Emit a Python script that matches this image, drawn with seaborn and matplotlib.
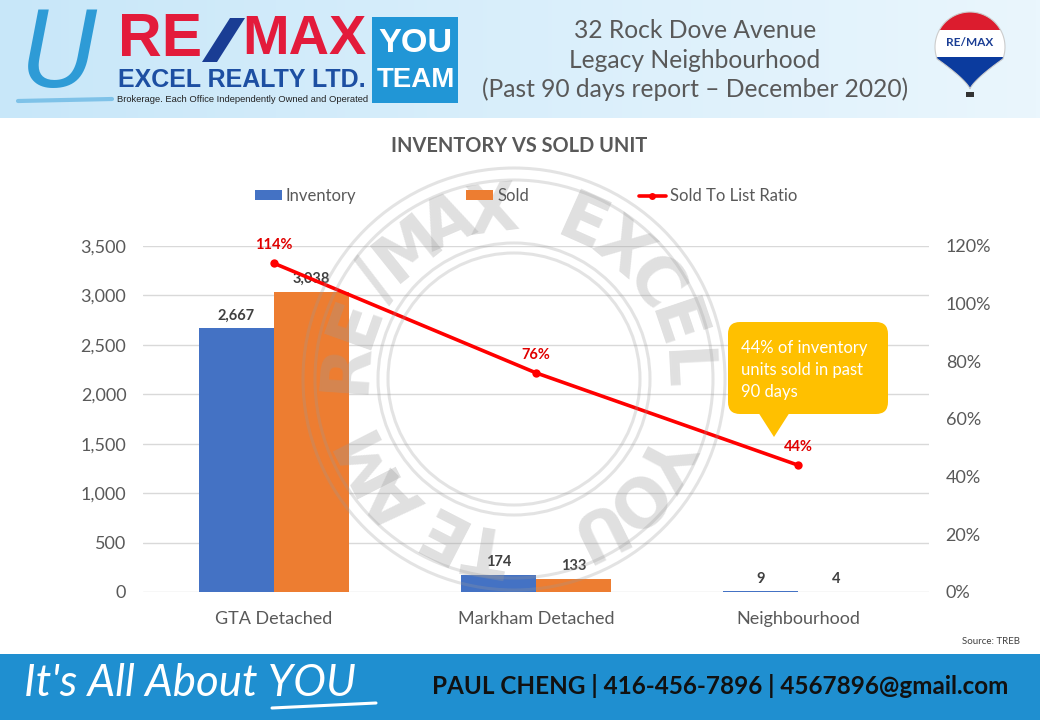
import numpy as np
import pandas as pd
import matplotlib
matplotlib.use("Agg")
import matplotlib.pyplot as plt
import seaborn as sns
from matplotlib.patches import Rectangle, Circle, FancyBboxPatch, Polygon, Patch
from matplotlib.lines import Line2D
from matplotlib.colors import LinearSegmentedColormap
from matplotlib.ticker import FuncFormatter, PercentFormatter

# chart data
areas = ["GTA Detached", "Markham Detached", "Neighbourhood"]
inventory = [2667, 174, 9]
sold = [3038, 133, 4]
sold_to_list = [1.14, 0.76, 0.44]
series_names = ["Inventory", "Sold", "Sold To List Ratio"]

W, H = 1040, 720
BLUE = "#4472c4"
ORANGE = "#ed7d31"
RED = "#ff0000"
GREY = "#595959"

sns.set_theme(style="white")
plt.rcParams["font.family"] = ["Lato", "DejaVu Sans"]

fig = plt.figure(figsize=(W / 100, H / 100), dpi=100)
fig.patch.set_facecolor("white")


def fit_text(ax, x, y, s, width, ha="left", **kw):
    # draw text then rescale its size so it spans the wanted pixel width
    t = ax.text(x, y, s, fontsize=20, ha=ha, va="center", **kw)
    bb = t.get_window_extent(renderer=fig.canvas.get_renderer())
    t.set_fontsize(20 * width / bb.width)
    return t


# background layer: header, footer, logos (pixel coordinates)
bg = fig.add_axes([0, 0, 1, 1], zorder=0)
grad = np.linspace(0, 1, 256).reshape(1, -1)
hdr_cmap = LinearSegmentedColormap.from_list("hdr", ["#c8e7f9", "#eaf6fd"])
bg.imshow(grad, extent=[0, W, 118, 0], aspect="auto", cmap=hdr_cmap, zorder=0)
bg.add_patch(Rectangle((0, 654), W, 66, fc="#1f8fd0", ec="none"))
bg.set_xlim(0, W)
bg.set_ylim(H, 0)
bg.axis("off")

# left logo
bg.text(60, 58, "U", fontsize=76, style="italic", color="#2e9bd6",
        family="DejaVu Sans", ha="center", va="center")
bg.plot([18, 112], [101, 99], color="#5fb3e2", lw=3, alpha=0.7, solid_capstyle="round")
fit_text(bg, 118, 40, "RE", 84, color="#e31b3b", weight="bold", family="Liberation Sans")
bg.add_patch(Polygon([(202, 62), (217, 62), (245, 18), (230, 18)], fc="#1a3d94", ec="none"))
fit_text(bg, 242, 40, "MAX", 124, color="#e31b3b", weight="bold", family="Liberation Sans")
fit_text(bg, 118, 80, "EXCEL REALTY LTD.", 248, color="#1d4fa2", weight="bold",
         family="Liberation Sans")
fit_text(bg, 117, 100, "Brokerage. Each Office Independently Owned and Operated", 249,
         color="#222222", family="Liberation Sans")
bg.add_patch(Rectangle((372, 17), 86, 86, fc="#2196d6", ec="none"))
fit_text(bg, 378, 43, "YOU", 74, color="white", weight="bold", family="Liberation Sans")
fit_text(bg, 377, 80, "TEAM", 78, color="white", weight="bold", family="Liberation Sans")

# header title lines
t3 = fit_text(bg, 695, 89, "(Past 90 days report \u2013 December 2020)", 428, ha="center", color=GREY)
size = t3.get_fontsize()
bg.text(695, 31, "32 Rock Dove Avenue", fontsize=size, ha="center", va="center", color=GREY)
bg.text(695, 60, "Legacy Neighbourhood", fontsize=size, ha="center", va="center", color=GREY)

# balloon logo
cx, cy, r = 970, 47, 35
ang = np.radians(np.linspace(200, -20, 60))
top = np.c_[cx + r * np.cos(ang), cy - r * np.sin(ang)]
tt = np.linspace(0, 1, 20)
right = np.c_[cx + r * np.cos(np.radians(20)) * (1 - tt) ** 1.3,
              cy + r * np.sin(np.radians(20)) + tt * 30]
left = np.c_[2 * cx - right[::-1, 0], right[::-1, 1]]
balloon = Polygon(np.vstack([top, right, left]), closed=True, fc="none", ec="#cccccc", lw=0.8, zorder=3)
bg.add_patch(balloon)
for y0, y1, col in [(0, 30, "#dc1c2e"), (30, 57, "white"), (57, 100, "#0b3b9e")]:
    band = Rectangle((cx - 40, y0), 80, y1 - y0, fc=col, ec="none", zorder=2)
    bg.add_patch(band)
    band.set_clip_path(balloon)
bg.text(cx, 42, "RE/MAX", fontsize=8.5, weight="bold", color="#1a3d94", ha="center", va="center", zorder=4)
bg.add_patch(Rectangle((966, 92), 8, 5, fc="#333333", ec="none"))

# chart title, source and footer text
bg.text(519, 146, "INVENTORY VS SOLD UNIT", fontsize=14.4, weight="bold", color=GREY,
        ha="center", va="center")
bg.text(1020, 641, "Source: TREB", fontsize=7, ha="right", va="center", color="#404040")
fit_text(bg, 24, 684, "It's All About YOU", 332, color="white", style="italic")
bg.plot([272, 376], [708, 703], color="white", lw=2.2, solid_capstyle="round")
fit_text(bg, 432, 686, "PAUL CHENG | 416-456-7896 | 4567896@gmail.com", 575,
         color="#111111", weight="bold")

# bars
df = pd.DataFrame({
    "area": areas * 2,
    "series": [series_names[0]] * len(areas) + [series_names[1]] * len(areas),
    "units": inventory + sold,
})

ax = fig.add_axes([143 / W, 1 - 592 / H, (929 - 143) / W, (592 - 246) / H], zorder=2)
ax.patch.set_alpha(0)
sns.barplot(data=df, x="area", y="units", hue="series", hue_order=series_names[:2],
            palette=[BLUE, ORANGE], saturation=1, width=0.575, errorbar=None,
            legend=False, linewidth=0, ax=ax)
ax.set_xlim(-0.5, len(areas) - 0.5)
ax.set_ylim(0, 3500)
ax.set_yticks(np.arange(0, 3501, 500))
ax.yaxis.set_major_formatter(FuncFormatter(lambda v, p: f"{v:,.0f}"))
ax.grid(axis="y", color="#d9d9d9", lw=1)
ax.grid(axis="x", visible=False)
ax.set_axisbelow(True)
ax.set_xlabel("")
ax.set_ylabel("")
sns.despine(ax=ax, left=True, bottom=True)
ax.tick_params(axis="y", length=0, pad=12, labelsize=13, labelcolor=GREY)
ax.tick_params(axis="x", length=0, pad=14, labelsize=13, labelcolor=GREY)

for cont, vals in zip(ax.containers, [inventory, sold]):
    ax.bar_label(cont, labels=[f"{v:,}" for v in vals], padding=4, fontsize=10.5,
                 fontweight="bold", color="#404040")

# ratio line on the right axis
ax2 = ax.twinx()
pos = np.arange(len(areas))
sns.lineplot(x=pos, y=sold_to_list, ax=ax2, color=RED, lw=2.6, marker="o",
             markersize=6, markeredgewidth=0, legend=False)
ax2.set_ylim(0, 1.2)
ax2.set_yticks(np.arange(0, 1.21, 0.2))
ax2.yaxis.set_major_formatter(PercentFormatter(1.0, decimals=0))
ax2.grid(False)
ax2.set_ylabel("")
sns.despine(ax=ax2, left=True, bottom=True, right=True)
ax2.tick_params(axis="y", length=0, pad=12, labelsize=13, labelcolor=GREY)
for x, v in zip(pos, sold_to_list):
    ax2.annotate(f"{v:.0%}", (x, v), xytext=(0, 13), textcoords="offset points",
                 ha="center", va="center", color="#e00000", fontsize=10.5, fontweight="bold")

# legend
handles = [Patch(fc=BLUE, ec="none"), Patch(fc=ORANGE, ec="none"),
           Line2D([], [], color=RED, lw=2.6, marker="o", markersize=5, markeredgewidth=0)]
fig.legend(handles, series_names, loc="center", bbox_to_anchor=(526 / W, 1 - 196 / H),
           ncol=3, frameon=False, fontsize=12, handlelength=1.6, handleheight=0.5,
           handletextpad=0.25, columnspacing=6.6, labelcolor=GREY)

# overlay: watermark stamp and callout
ov = fig.add_axes([0, 0, 1, 1], zorder=5)
ov.set_xlim(0, W)
ov.set_ylim(H, 0)
ov.axis("off")
ov.patch.set_alpha(0)
wx, wy = 514, 379
for rr in [211, 199, 136, 126]:
    ov.add_patch(Circle((wx, wy), rr, fc="none", ec="#9a9a9a", lw=2.2, alpha=0.27))
for text, a0, a1 in [("RE/MAX EXCEL", 176, 3), ("YOU TEAM", -28, -153)]:
    for ch, a in zip(text, np.linspace(a0, a1, len(text))):
        if ch == " ":
            continue
        rad = np.radians(a)
        ov.text(wx + 168 * np.cos(rad), wy - 168 * np.sin(rad), ch, fontsize=48,
                weight="bold", family="DejaVu Sans", color="#9a9a9a", alpha=0.3,
                rotation=a - 90, rotation_mode="anchor", ha="center", va="center")

ov.add_patch(FancyBboxPatch((728, 322), 160, 92, boxstyle="round,pad=0,rounding_size=12",
                            fc="#ffc000", ec="none", zorder=6))
ov.add_patch(Polygon([(758, 412), (790, 412), (774, 437)], fc="#ffc000", ec="none", zorder=6))
ov.text(741, 370, "44% of inventory\nunits sold in past\n90 days", fontsize=12,
        color="white", ha="left", va="center", linespacing=1.45, zorder=7)

fig.savefig("out.png", dpi=100)
